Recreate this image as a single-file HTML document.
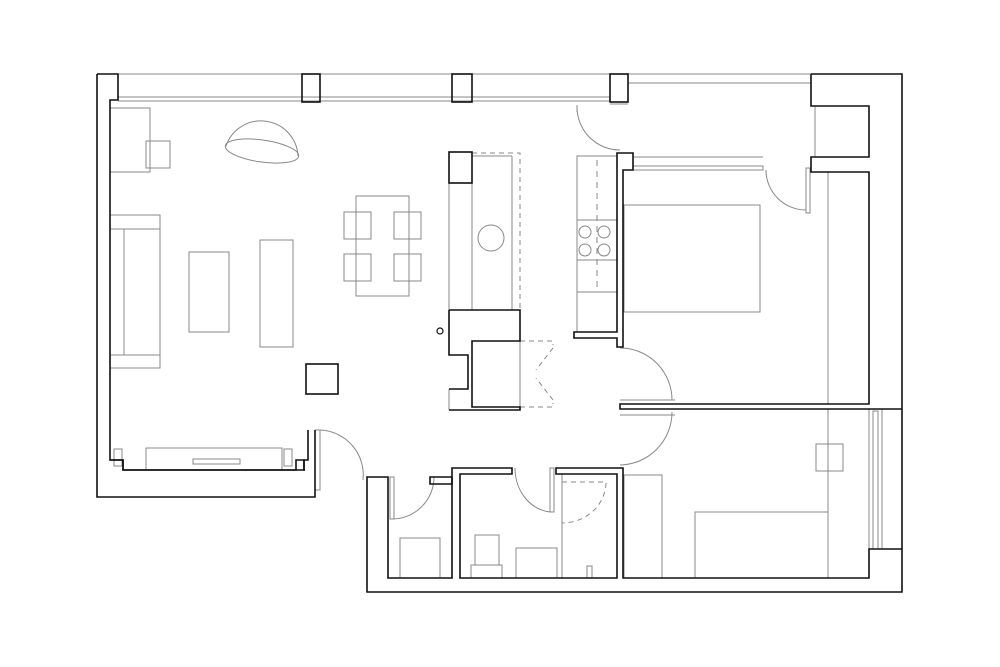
<!DOCTYPE html>
<html><head><meta charset="utf-8"><style>html,body{margin:0;padding:0;background:#fff}svg{display:block}</style></head>
<body>
<svg width="1000" height="667" viewBox="0 0 1000 667" xmlns="http://www.w3.org/2000/svg">
<g fill="none" stroke="#888" stroke-width="1">
  <!-- top window -->
  <line x1="118" y1="74" x2="610" y2="74"/>
  <line x1="118" y1="97" x2="610" y2="97"/>
  <line x1="118" y1="101" x2="610" y2="101"/>
  <line x1="628" y1="74" x2="811" y2="74"/>
  <line x1="628" y1="83" x2="811" y2="83"/>
  <line x1="628" y1="105" x2="628" y2="105"/>
  <line x1="610" y1="104" x2="628" y2="104"/>
  <!-- living furniture -->
  <rect x="110" y="108" width="40" height="64"/>
  <rect x="146" y="141" width="24" height="27"/>
  <rect x="110" y="215" width="50" height="153"/>
  <line x1="110" y1="229" x2="160" y2="229"/>
  <line x1="110" y1="355" x2="160" y2="355"/>
  <line x1="124" y1="229" x2="124" y2="355"/>
  <rect x="189" y="252" width="40" height="80"/>
  <rect x="260" y="240" width="33" height="107"/>
  <rect x="356" y="196" width="53" height="100"/>
  <rect x="344" y="212" width="27" height="27"/>
  <rect x="394" y="212" width="27" height="27"/>
  <rect x="344" y="254" width="27" height="27"/>
  <rect x="394" y="254" width="27" height="27"/>
  <path d="M226,146 A37,37 0 0 1 298,156"/>
  <ellipse cx="262" cy="151" rx="37" ry="11" transform="rotate(8 262 151)"/>
  <!-- TV -->
  <rect x="146" y="448" width="136" height="22"/>
  <rect x="193" y="459" width="47" height="5"/>
  <rect x="114" y="449" width="8" height="17"/>
  <rect x="284" y="449" width="8" height="17"/>
  <!-- island -->
  <line x1="472" y1="153" x2="472" y2="310"/>
  <line x1="512" y1="156" x2="512" y2="310"/>
  <line x1="472" y1="156" x2="512" y2="156"/>
  <path d="M472,153 H520 V310" stroke-dasharray="5,4"/>
  <circle cx="491" cy="238" r="13"/>
  <line x1="449" y1="183" x2="449" y2="310"/>
  <!-- bifold dashed -->
  <path d="M520,341 H553 V345 M520,407 H553 V403" stroke-dasharray="5,4"/>
  <path d="M553,348 L536,370 M553,400 L536,378" stroke-dasharray="5,4"/>
  <line x1="520" y1="341" x2="520" y2="407"/>
  <line x1="449" y1="389" x2="449" y2="410"/>
  <!-- kitchen counter -->
  <rect x="577" y="156" width="40" height="176"/>
  <line x1="577" y1="220" x2="617" y2="220"/>
  <line x1="577" y1="260" x2="617" y2="260"/>
  <line x1="577" y1="292" x2="617" y2="292"/>
  <line x1="597" y1="160" x2="597" y2="290" stroke-dasharray="6,5"/>
  <circle cx="585" cy="232" r="6"/><circle cx="604" cy="232" r="6"/>
  <circle cx="585" cy="250" r="6"/><circle cx="604" cy="250" r="6"/>
  <!-- bedroom 1 -->
  <line x1="633" y1="157" x2="763" y2="157"/>
  <rect x="633" y="166" width="130" height="4"/>
  <rect x="624" y="205" width="136" height="107"/>
  <line x1="828" y1="172" x2="828" y2="404"/>
  <line x1="815" y1="106" x2="815" y2="157"/>
  <!-- doors -->
  <path d="M577,107 A43,43 0 0 0 620,150"/>
  <line x1="577" y1="105" x2="577" y2="112"/>
  <path d="M766,170 A40,40 0 0 0 806,210"/>
  <rect x="806" y="168" width="4" height="45"/>
  <path d="M620,348 A52,52 0 0 1 672,400"/>
  <path d="M672,412 A53,53 0 0 1 620,465"/>
  <line x1="620" y1="400" x2="675" y2="400"/>
  <line x1="620" y1="415" x2="675" y2="415"/>
  <path d="M320,430 A45,45 0 0 1 363,480"/>
  <rect x="315" y="430" width="5" height="60"/>
  <path d="M392,519 A42,42 0 0 0 434,477"/>
  <rect x="390" y="477" width="4" height="42"/>
  <path d="M515,468 A38,44 0 0 0 553,512"/>
  <rect x="550" y="468" width="4" height="44"/>
  <!-- bathrooms -->
  <rect x="400" y="538" width="40" height="40"/>
  <rect x="475" y="535" width="24" height="30"/>
  <rect x="471" y="565" width="31" height="13"/>
  <rect x="516" y="548" width="41" height="30"/>
  <rect x="587" y="566" width="5" height="12"/>
  <line x1="562" y1="474" x2="562" y2="578"/>
  <path d="M562,482 H606 A44,41 0 0 1 562,523" stroke-dasharray="5,4"/>
  <!-- bedroom 2 -->
  <rect x="624" y="475" width="38" height="103"/>
  <rect x="695" y="512" width="133" height="66"/>
  <line x1="828" y1="409" x2="828" y2="578"/>
  <rect x="816" y="444" width="27" height="27"/>
  <line x1="869" y1="409" x2="869" y2="549"/>
  <rect x="873" y="411" width="5" height="138"/>
  <line x1="882" y1="409" x2="882" y2="549"/>
</g>
<g fill="none" stroke="#111" stroke-width="1.6">
  <!-- outer left / top-left corner -->
  <path d="M97,74 H118 V100 H110 V460 H123 V470 H296 V460 H304 V470 H305"/>
  <path d="M97,74 V497 H315 V430"/>
  <path d="M110,460 H123 V470 H304 V460 H308 V430"/>
  <rect x="302" y="74" width="18" height="28"/>
  <rect x="452" y="74" width="20" height="28"/>
  <rect x="610" y="74" width="18" height="28"/>
  <!-- top right block -->
  <path d="M811,74 H902 V592 H367 V477 H388 V578 H452 V468 H512 V474 H460 V578 H617 V474 H556 V468 H623 V578 H869 V549 H902"/>
  <path d="M811,74 V106 H869 V157 H811 V172 H869 V404 H620 V409 H902"/>
  <path d="M430,477 H452 V484 H430 Z"/>
  <!-- kitchen wall -->
  <path d="M617,153 H633 V170 H623 V347 H617 V338 H574 V332 H617 Z"/>
  <!-- island -->
  <rect x="449" y="152" width="23" height="31"/>
  <path d="M449,310 H520 V341 H472 V407 H520 V410 H449 M449,310 V355 H468 V389 H449"/>
  <!-- tv square -->
  <rect x="306" y="364" width="32" height="30"/>
  <circle cx="440" cy="331" r="3" stroke-width="1.2"/>
</g>
</svg>
</body></html>
